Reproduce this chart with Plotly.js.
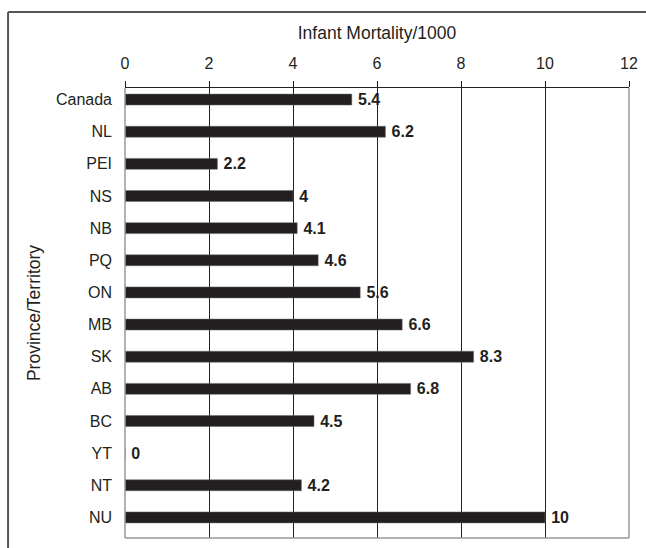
<!DOCTYPE html>
<html><head><meta charset="utf-8">
<script src="https://cdn.plot.ly/plotly-3.0.1.min.js"></script>
<style>html,body{margin:0;padding:0;background:#fff}#c{width:646px;height:548px}</style>
</head><body><div id="c"></div>
<script>
const regions = ["Canada","NL","PEI","NS","NB","PQ","ON","MB","SK","AB","BC","YT","NT","NU"];
const mortality = [5.4,6.2,2.2,4,4.1,4.6,5.6,6.6,8.3,6.8,4.5,0,4.2,10];
const xTicks = [0,2,4,6,8,10,12];

const font = "Liberation Sans, Arial, sans-serif";
const trace = {
  type: "bar", orientation: "h",
  x: mortality, y: regions,
  width: 0.34,
  marker: {color: "#231f20", line: {color: "#666", width: 0.5}},
  text: mortality.map(String),
  texttemplate: "\u2009%{text}",
  textposition: "outside",
  constraintext: "none",
  cliponaxis: false,
  textfont: {family: font, size: 16, color: "#231f20", weight: "bold"},
  hoverinfo: "none"
};
const layout = {
  width: 646, height: 548,
  margin: {l: 125, r: 17, t: 88, b: 10},
  paper_bgcolor: "#fff", plot_bgcolor: "#fff",
  showlegend: false,
  font: {family: font, size: 16, color: "#231f20"},
  xaxis: {
    side: "top", range: [0, 12], tickvals: xTicks, ticktext: xTicks.map(String),
    showgrid: true, gridcolor: "#231f20", gridwidth: 1,
    showline: true, linecolor: "#231f20", linewidth: 1,
    ticks: "outside", ticklen: 6, tickcolor: "#231f20",
    ticklabelstandoff: 6,
    zeroline: false, fixedrange: true,
    title: {text: "Infant Mortality/1000", font: {size: 17.5}, standoff: 10}
  },
  yaxis: {
    type: "category", range: [13.64, -0.36],
    showgrid: false, zeroline: false, showline: false, ticks: "",
    ticklabelstandoff: 12,
    title: {text: "Province/Territory", font: {size: 17.5}, standoff: 10}
  },
  shapes: [
    {type: "line", xref: "paper", yref: "paper", x0: 0, x1: 0, y0: 0, y1: 1, line: {color: "#999", width: 1.5}},
    {type: "line", xref: "paper", yref: "paper", x0: 1, x1: 1, y0: 0, y1: 1, line: {color: "#999", width: 1.5}},
    {type: "line", xref: "paper", yref: "paper", x0: 0, x1: 1, y0: 0, y1: 0, line: {color: "#999", width: 1.5}},
    {type: "line", xref: "paper", yref: "paper", x0: -0.232, x1: 1.05, y0: 1.169, y1: 1.169, line: {color: "#555", width: 2}},
    {type: "line", xref: "paper", yref: "paper", x0: -0.232, x1: -0.232, y0: 1.169, y1: -0.05, line: {color: "#555", width: 2}}
  ]
};
Plotly.newPlot("c", [trace], layout, {displayModeBar: false, staticPlot: true});
</script></body></html>
